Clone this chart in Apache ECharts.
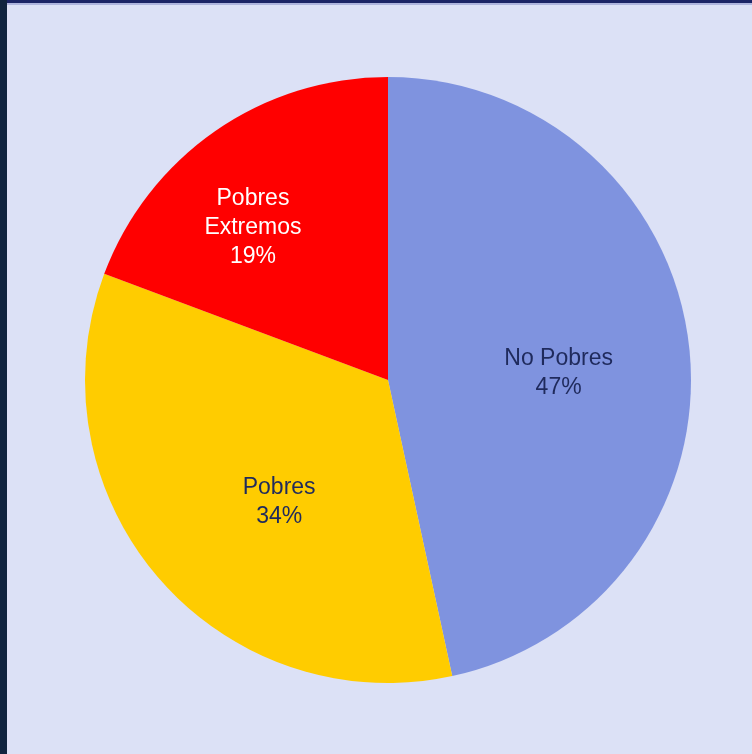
<!DOCTYPE html>
<html>
<head>
<meta charset="utf-8">
<script src="https://cdn.jsdelivr.net/npm/echarts@6/dist/echarts.min.js"></script>
<style>
html,body{margin:0;padding:0;background:#DCE1F6;}
#wrap{position:relative;width:752px;height:754px;overflow:hidden;}
#chart{position:absolute;left:0;top:0;width:752px;height:754px;}
#bl{position:absolute;left:0;top:0;width:7px;height:754px;background:#10243F;}
#bt{position:absolute;left:7px;top:0;width:745px;height:3px;background:#1B2566;}
#bt2{position:absolute;left:7px;top:3px;width:745px;height:2px;background:#AEB5DE;}
</style>
</head>
<body>
<div id="wrap">
<div id="chart"></div>
<div id="bl"></div>
<div id="bt"></div>
<div id="bt2"></div>
</div>
<script>
var categories = ["No Pobres", "Pobres", "Pobres\nExtremos"];
var values = [46.6, 34.1, 19.3];
var colors = ["#7F93DF", "#FFCC00", "#FF0000"];
var labelColors = ["#1F2A5C", "#1F2A5C", "#FFFFFF"];
var labelOffsets = [[17, 10], [8, 21], [-47, -25]];

var chart = echarts.init(document.getElementById('chart'), null, {renderer: 'canvas'});
var data = categories.map(function (c, i) {
  return {
    name: c,
    value: values[i],
    itemStyle: {color: colors[i]},
    label: {color: labelColors[i], offset: labelOffsets[i]}
  };
});
chart.setOption({
  backgroundColor: '#DCE1F6',
  animation: false,
  series: [{
    type: 'pie',
    center: [388, 380],
    radius: [0, 303],
    startAngle: 90,
    clockwise: true,
    percentPrecision: 0,
    silent: true,
    itemStyle: {borderWidth: 0},
    label: {
      show: true,
      position: 'inside',
      formatter: '{b}\n{d}%',
      fontFamily: 'Liberation Sans, Arial, sans-serif',
      fontSize: 23,
      lineHeight: 29,
      align: 'center'
    },
    labelLine: {show: false},
    data: data
  }]
});
</script>
</body>
</html>
